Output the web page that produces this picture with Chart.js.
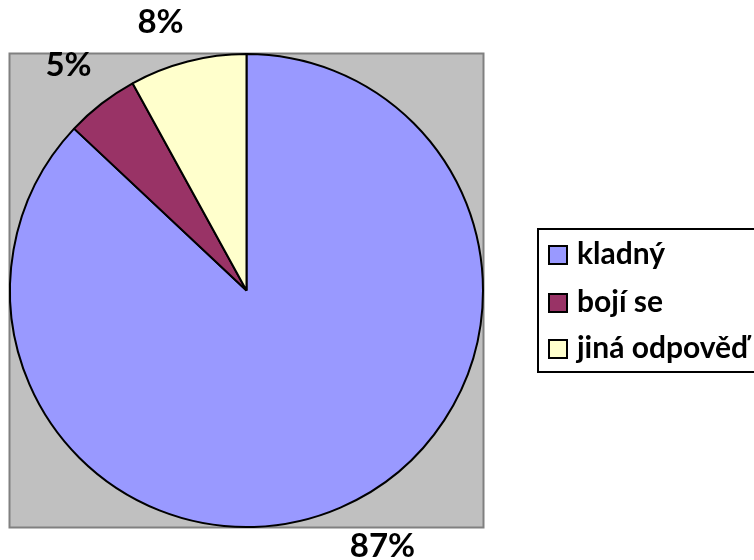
<!DOCTYPE html>
<html>
<head>
<meta charset="utf-8">
<script src="https://cdn.jsdelivr.net/npm/chart.js@4.4.1/dist/chart.umd.min.js"></script>
<style>
  html, body { margin: 0; padding: 0; background: #ffffff; }
  #wrap { position: relative; width: 754px; height: 560px; overflow: hidden; }
</style>
</head>
<body>
<div id="wrap"><canvas id="c" width="754" height="560"></canvas></div>
<script>
const categories = ["kladný", "bojí se", "jiná odpověď"];
const values = [87, 5, 8];
const percentLabels = ["87%", "5%", "8%"];
const colors = ["#9999FF", "#993366", "#FFFFCC"];

const FONT = "Lato, 'Noto Sans', sans-serif";

// background plot rectangle derived from the pie geometry
const plotBg = {
  id: "plotBg",
  beforeDatasetsDraw(chart) {
    const arc = chart.getDatasetMeta(0).data[0];
    if (!arc) return;
    const r = arc.outerRadius + 0.5;
    const ctx = chart.ctx;
    ctx.save();
    ctx.fillStyle = "#C0C0C0";
    ctx.fillRect(arc.x - r, arc.y - r, 2 * r, 2 * r);
    ctx.strokeStyle = "#808080";
    ctx.lineWidth = 2;
    ctx.strokeRect(arc.x - r, arc.y - r, 2 * r, 2 * r);
    ctx.restore();
  }
};

// percentage labels placed outside their slices
const labelPos = [
  { dx: 136, dy: 266 },   // relative to pie centre (87%)
  { dx: -178, dy: -215 }, // 5%
  { dx: -86, dy: -258 }   // 8%
];
const pctLabels = {
  id: "pctLabels",
  afterDatasetsDraw(chart) {
    const meta = chart.getDatasetMeta(0);
    const ctx = chart.ctx;
    ctx.save();
    ctx.font = "bold 33px " + FONT;
    ctx.fillStyle = "#000000";
    ctx.textAlign = "center";
    ctx.textBaseline = "alphabetic";
    meta.data.forEach((arc, i) => {
      ctx.fillText(percentLabels[i], arc.x + labelPos[i].dx, arc.y + labelPos[i].dy);
    });
    ctx.restore();
  }
};

// legend box
const legendBox = {
  id: "legendBox",
  afterDraw(chart) {
    const ctx = chart.ctx;
    const left = 538, top = 229, bottom = 372, right = 790;
    ctx.save();
    ctx.fillStyle = "#ffffff";
    ctx.fillRect(left, top, right - left, bottom - top);
    ctx.strokeStyle = "#000000";
    ctx.lineWidth = 2;
    ctx.strokeRect(left, top, right - left, bottom - top);
    ctx.font = "bold 30px " + FONT;
    ctx.textAlign = "left";
    ctx.textBaseline = "alphabetic";
    const rowTop = [246, 294, 340];
    categories.forEach((name, i) => {
      const y = rowTop[i];
      ctx.fillStyle = colors[i];
      ctx.fillRect(549, y, 18, 18);
      ctx.lineWidth = 2;
      ctx.strokeStyle = "#000000";
      ctx.strokeRect(549, y, 18, 18);
      ctx.fillStyle = "#000000";
      ctx.fillText(name, 577, y + 18);
    });
    ctx.restore();
  }
};

new Chart(document.getElementById("c"), {
  type: "pie",
  data: {
    labels: categories,
    datasets: [{
      data: values,
      backgroundColor: colors,
      borderColor: "#000000",
      borderWidth: 2
    }]
  },
  options: {
    responsive: false,
    animation: false,
    devicePixelRatio: 1,
    layout: { padding: { left: 9, top: 53, right: 270, bottom: 32 } },
    plugins: {
      legend: { display: false },
      tooltip: { enabled: false },
      title: { display: false }
    }
  },
  plugins: [plotBg, pctLabels, legendBox]
});
</script>
</body>
</html>
